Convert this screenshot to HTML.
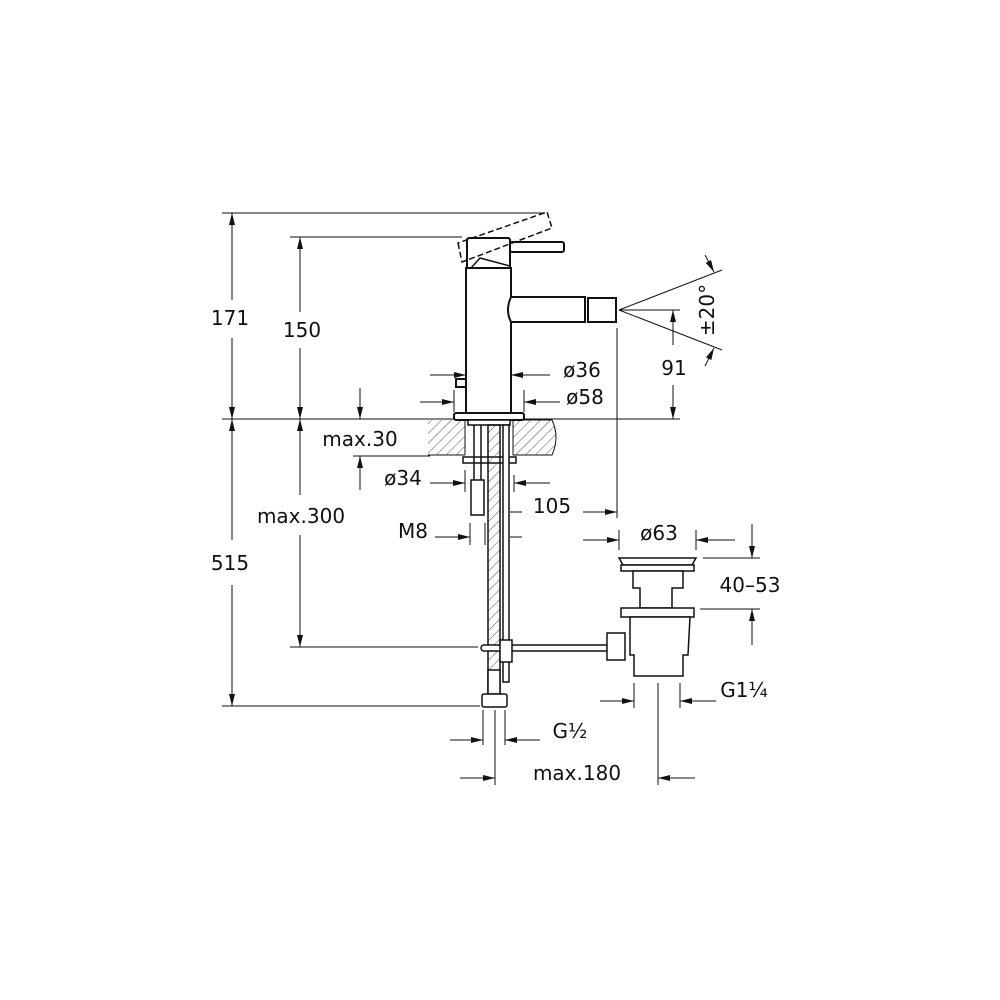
<!DOCTYPE html>
<html><head><meta charset="utf-8"><style>
html,body{margin:0;padding:0;background:#fff}
svg{display:block}
text{font-family:"DejaVu Sans","Liberation Sans",sans-serif;font-size:20px;fill:#111}
</style></head><body>
<svg width="1000" height="1000" viewBox="0 0 1000 1000" xmlns="http://www.w3.org/2000/svg">
<defs>
<marker id="a" viewBox="0 0 12 6" refX="12" refY="3" markerWidth="12" markerHeight="6" markerUnits="userSpaceOnUse" orient="auto"><path d="M0,0L12,3L0,6z" fill="#111"/></marker>
<pattern id="h" width="7" height="7" patternUnits="userSpaceOnUse" patternTransform="rotate(45)"><line x1="0" y1="0" x2="0" y2="7" stroke="#555" stroke-width="1"/></pattern>
</defs>
<g stroke="#111" fill="none" stroke-width="1">
<line x1="222" y1="213" x2="545" y2="213"/>
<line x1="290" y1="237" x2="462" y2="237"/>
<line x1="222" y1="419" x2="680" y2="419"/>
<line x1="222" y1="706" x2="480" y2="706"/>
<line x1="290" y1="647" x2="478" y2="647"/>
<line x1="353" y1="456" x2="430" y2="456"/>
<line x1="232" y1="300" x2="232" y2="213" marker-end="url(#a)"/>
<line x1="232" y1="338" x2="232" y2="419" marker-end="url(#a)"/>
<line x1="232" y1="540" x2="232" y2="419" marker-end="url(#a)"/>
<line x1="232" y1="585" x2="232" y2="706" marker-end="url(#a)"/>
<line x1="300" y1="312" x2="300" y2="237" marker-end="url(#a)"/>
<line x1="300" y1="348" x2="300" y2="419" marker-end="url(#a)"/>
<line x1="300" y1="495" x2="300" y2="419" marker-end="url(#a)"/>
<line x1="300" y1="535" x2="300" y2="647" marker-end="url(#a)"/>
<line x1="360" y1="388" x2="360" y2="419" marker-end="url(#a)"/>
<line x1="360" y1="490" x2="360" y2="456" marker-end="url(#a)"/>
<line x1="430" y1="375" x2="466" y2="375" marker-end="url(#a)"/>
<line x1="550" y1="375" x2="511" y2="375" marker-end="url(#a)"/>
<line x1="420" y1="402" x2="454" y2="402" marker-end="url(#a)"/>
<line x1="560" y1="402" x2="524" y2="402" marker-end="url(#a)"/>
<line x1="454" y1="390" x2="454" y2="412"/>
<line x1="524" y1="390" x2="524" y2="412"/>
<line x1="619" y1="310" x2="722" y2="270"/>
<line x1="619" y1="310" x2="722" y2="350"/>
<line x1="619" y1="310" x2="680" y2="310"/>
<line x1="673" y1="345" x2="673" y2="310" marker-end="url(#a)"/>
<line x1="673" y1="385" x2="673" y2="419" marker-end="url(#a)"/>
<line x1="705" y1="255" x2="714" y2="272" marker-end="url(#a)"/>
<line x1="705" y1="366" x2="714" y2="348" marker-end="url(#a)"/>
<line x1="617" y1="328" x2="617" y2="518"/>
<line x1="583" y1="512" x2="617" y2="512" marker-end="url(#a)"/>
<line x1="550" y1="483" x2="514" y2="483" marker-end="url(#a)"/>
<line x1="514" y1="475" x2="514" y2="492"/>
<line x1="430" y1="483" x2="465" y2="483" marker-end="url(#a)"/>
<line x1="465" y1="470" x2="465" y2="492"/>
<line x1="435" y1="537" x2="470" y2="537" marker-end="url(#a)"/>
<line x1="470" y1="523" x2="470" y2="545"/>
<line x1="485" y1="523" x2="485" y2="545"/>
<line x1="510" y1="537" x2="522" y2="537"/>
<line x1="510" y1="512" x2="522" y2="512"/>
<line x1="583" y1="540" x2="619" y2="540" marker-end="url(#a)"/>
<line x1="735" y1="540" x2="696" y2="540" marker-end="url(#a)"/>
<line x1="619" y1="530" x2="619" y2="550"/>
<line x1="696" y1="530" x2="696" y2="550"/>
<line x1="703" y1="558" x2="760" y2="558"/>
<line x1="700" y1="609" x2="760" y2="609"/>
<line x1="752" y1="524" x2="752" y2="558" marker-end="url(#a)"/>
<line x1="752" y1="645" x2="752" y2="609" marker-end="url(#a)"/>
<line x1="634" y1="683" x2="634" y2="708"/>
<line x1="680" y1="683" x2="680" y2="708"/>
<line x1="600" y1="701" x2="634" y2="701" marker-end="url(#a)"/>
<line x1="716" y1="701" x2="680" y2="701" marker-end="url(#a)"/>
<line x1="658" y1="683" x2="658" y2="785"/>
<line x1="483" y1="710" x2="483" y2="745"/>
<line x1="505" y1="710" x2="505" y2="745"/>
<line x1="495" y1="710" x2="495" y2="785"/>
<line x1="450" y1="740" x2="483" y2="740" marker-end="url(#a)"/>
<line x1="540" y1="740" x2="505" y2="740" marker-end="url(#a)"/>
<line x1="460" y1="778" x2="495" y2="778" marker-end="url(#a)"/>
<line x1="695" y1="778" x2="658" y2="778" marker-end="url(#a)"/>
</g>
<path d="M428,420 H465 V455 H428 Z" fill="url(#h)" stroke="none"/>
<path d="M513,420 H552 Q560,437 552,455 H513 Z" fill="url(#h)" stroke="#111" stroke-width="1"/>
<line x1="428" y1="455" x2="465" y2="455" stroke="#111"/>
<line x1="465" y1="420" x2="465" y2="455" stroke="#111"/>
<g stroke="#111" fill="#fff" stroke-width="2">
<rect x="466" y="268" width="45" height="145"/>
<rect x="454" y="413" width="70" height="7" rx="2"/>
<rect x="468" y="420" width="42" height="5" stroke-width="1.5"/>
<path d="M467,268 V240 Q467,238 470,238 H508 Q510,238 510,241 V268 Z"/>
<path d="M471,268 L480,258 L510,266" fill="none" stroke-width="1.5"/>
<rect x="510" y="242" width="54" height="10" rx="2"/>
<path d="M511,297 H585 V322 H511 Q505,310 511,297 Z"/>
<rect x="588" y="298" width="28" height="24"/>
<rect x="456" y="379" width="10" height="8"/>
<rect x="463" y="457" width="53" height="6" stroke-width="1.5"/>
<rect x="471" y="480" width="13" height="35" stroke-width="1.5"/>
<rect x="488" y="425" width="12" height="270" fill="url(#h)" stroke-width="1.5"/>
<rect x="503" y="425" width="6" height="257" stroke-width="1.5"/>
<line x1="474" y1="425" x2="474" y2="480" stroke-width="1.5"/>
<line x1="481" y1="425" x2="481" y2="480" stroke-width="1.5"/>
<rect x="488" y="670" width="12" height="24" stroke-width="1.5"/>
<rect x="482" y="694" width="25" height="13" rx="2" stroke-width="1.5"/>
<rect x="481" y="645" width="130" height="6" rx="3" stroke-width="1.5"/>
<rect x="500" y="640" width="12" height="22" stroke-width="1.5"/>
<path d="M619,558 H696 L692,565 H623 Z" stroke-width="1.5"/>
<rect x="621" y="565" width="73" height="6" stroke-width="1.5"/>
<path d="M633,571 H683 V588 H672 V608 H640 V588 H633 Z" stroke-width="1.5"/>
<rect x="621" y="608" width="73" height="9" stroke-width="1.5"/>
<path d="M630,617 H690 L688,655 H683 V676 H634 V655 H630 Z" stroke-width="1.5"/>
<rect x="607" y="633" width="18" height="27" stroke-width="1.5"/>
</g>
<g stroke="#111" fill="none" stroke-width="1.5" stroke-dasharray="6,3">
<path d="M458,243 L462,262 L552,228 L547,212 Z"/>
</g>
<g>
<text x="230" y="325" text-anchor="middle" paint-order="stroke" stroke="#fff" stroke-width="6">171</text>
<text x="302" y="337" text-anchor="middle" paint-order="stroke" stroke="#fff" stroke-width="6">150</text>
<text x="230" y="570" text-anchor="middle" paint-order="stroke" stroke="#fff" stroke-width="6">515</text>
<text x="301" y="523" text-anchor="middle" paint-order="stroke" stroke="#fff" stroke-width="6">max.300</text>
<text x="360" y="446" text-anchor="middle">max.30</text>
<text x="403" y="485" text-anchor="middle">ø34</text>
<text x="413" y="538" text-anchor="middle">M8</text>
<text x="582" y="377" text-anchor="middle">ø36</text>
<text x="585" y="404" text-anchor="middle">ø58</text>
<text x="674" y="375" text-anchor="middle" paint-order="stroke" stroke="#fff" stroke-width="6">91</text>
<text transform="translate(714,310) rotate(-90)" text-anchor="middle">±20°</text>
<text x="552" y="513" text-anchor="middle">105</text>
<text x="659" y="540" text-anchor="middle">ø63</text>
<text x="750" y="592" text-anchor="middle">40–53</text>
<text x="744" y="697" text-anchor="middle">G1¼</text>
<text x="570" y="738" text-anchor="middle">G½</text>
<text x="577" y="780" text-anchor="middle">max.180</text>
</g>
</svg>
</body></html>
